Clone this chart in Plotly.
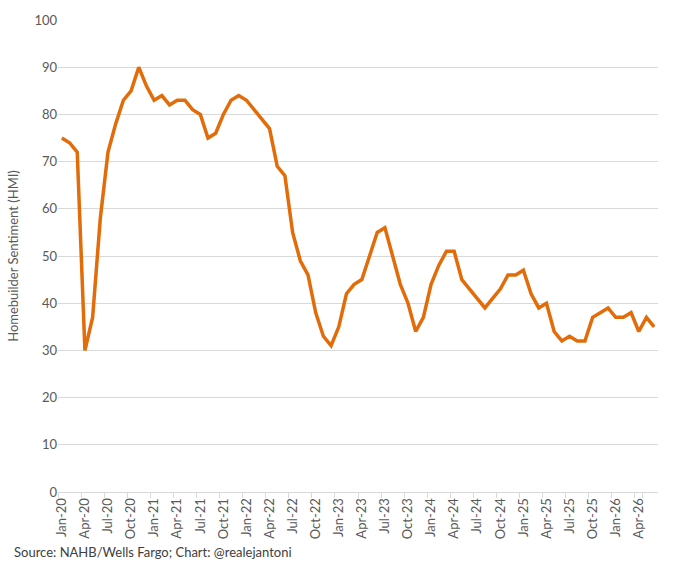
import plotly.graph_objects as go

# Meses (Jan-20 .. Jun-26)
years = ["20", "21", "22", "23", "24", "25", "26"]
month_names = ["Jan", "Feb", "Mar", "Apr", "May", "Jun",
               "Jul", "Aug", "Sep", "Oct", "Nov", "Dec"]
months = [f"{m}-{y}" for y in years for m in month_names][:78]

# NAHB/Wells Fargo Housing Market Index
hmi = [
    75, 74, 72, 30, 37, 58, 72, 78, 83, 85, 90, 86,   # 2020
    83, 84, 82, 83, 83, 81, 80, 75, 76, 80, 83, 84,   # 2021
    83, 81, 79, 77, 69, 67, 55, 49, 46, 38, 33, 31,   # 2022
    35, 42, 44, 45, 50, 55, 56, 50, 44, 40, 34, 37,   # 2023
    44, 48, 51, 51, 45, 43, 41, 39, 41, 43, 46, 46,   # 2024
    47, 42, 39, 40, 34, 32, 33, 32, 32, 37, 38, 39,   # 2025
    37, 37, 38, 34, 37, 35,                           # 2026
]

tick_labels = months[::3]
y_ticks = list(range(0, 101, 10))

fig = go.Figure()

fig.add_trace(go.Scatter(
    x=months,
    y=hmi,
    mode="lines",
    line=dict(color="#E36C0A", width=3.5),
    showlegend=False
))

fig.update_layout(
    width=680,
    height=567,
    margin=dict(l=58, r=22, t=17, b=75),
    plot_bgcolor="white",
    paper_bgcolor="white",
    font=dict(family="Lato, Liberation Sans, sans-serif", size=13, color="#595959"),
    xaxis=dict(
        type="category",
        range=[-0.5, len(months) - 0.5],
        tickmode="array",
        tickvals=tick_labels,
        ticktext=tick_labels,
        tickangle=-90,
        tickson="boundaries",
        ticks="outside",
        ticklen=5,
        tickcolor="#D9D9D9",
        showgrid=False,
        showline=True,
        linecolor="#D9D9D9",
        linewidth=1,
        tickfont=dict(size=13, color="#595959"),
    ),
    yaxis=dict(
        range=[0, 100],
        tickvals=y_ticks,
        showgrid=True,
        gridcolor="#D9D9D9",
        gridwidth=1,
        zeroline=False,
        showline=False,
        ticks="",
        tickfont=dict(size=13, color="#595959"),
        title=dict(text="Homebuilder Sentiment (HMI)", font=dict(size=13, color="#595959"), standoff=12),
    ),
    annotations=[dict(
        text="Source: NAHB/Wells Fargo; Chart: @realejantoni",
        xref="paper", yref="paper", x=-0.077, y=-0.148,
        xanchor="left", yanchor="bottom", showarrow=False,
        font=dict(size=13, color="#404040"),
    )],
)

# quitar el margen del body para que la figura quede en (0, 0)
fig.write_html("out.html", config={"displayModeBar": False},
               post_script="document.body.style.margin='0';")
